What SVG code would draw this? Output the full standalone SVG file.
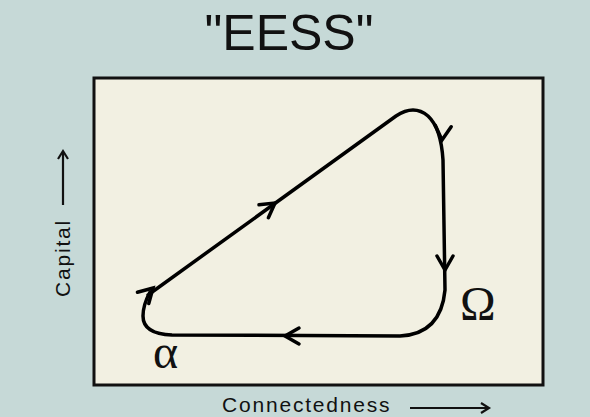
<svg xmlns="http://www.w3.org/2000/svg" width="590" height="417" viewBox="0 0 590 417">
<style>
.bg{fill:#c6d9d7}
.box{fill:#f2f0e2;stroke:#111;stroke-width:3}
.loop{fill:none;stroke:#000;stroke-width:3.5;stroke-linecap:round;stroke-linejoin:round}
.chev{fill:none;stroke:#000;stroke-width:3.5;stroke-linecap:round;stroke-linejoin:miter}
.axis{fill:none;stroke:#111;stroke-width:2.2}
.lbl{font-family:"Liberation Sans",Arial,sans-serif;font-size:21px;fill:#111;letter-spacing:1.8px}
.greek{font-family:"Liberation Serif","Times New Roman",serif;font-size:48px;fill:#111}
</style>
<defs>
<polyline id="chev" class="chev" points="-14,-8 0,0 -14,8"/>
<polyline id="small" class="axis" points="-8,-5 0,0 -8,5"/>
</defs>
<rect class="bg" x="0" y="0" width="590" height="417"/>
<text x="289" y="50" text-anchor="middle" font-family="Liberation Sans, Arial, sans-serif" font-size="50" fill="#111">"EESS"</text>
<g id="frame">
<rect class="box" x="94" y="78" width="449" height="307"/>
</g>
<g id="connectors">
<path class="loop" d="M148,295 L396,116 Q414,104 428,116 Q441,128 443,160 L445,290 Q441,334 400,336 L172,335 Q143,334 143,316 Q143,305 150,292"/>
<use href="#chev" transform="translate(153,288) rotate(-45)"/>
<use href="#chev" transform="translate(275,203) rotate(-36)"/>
<use href="#chev" transform="translate(442,140) rotate(95)"/>
<use href="#chev" transform="translate(445,270) rotate(90)"/>
<use href="#chev" transform="translate(285,336) rotate(180)"/>
<line class="axis" x1="63" y1="205" x2="63" y2="152"/>
<use href="#small" transform="translate(63,151) rotate(-90)"/>
<line class="axis" x1="410" y1="408" x2="488" y2="408"/>
<use href="#small" transform="translate(489,408)"/>
</g>
<g id="labels">
<text class="lbl" transform="translate(70,258) rotate(-90)" text-anchor="middle">Capital</text>
<text class="lbl" x="222" y="412">Connectedness</text>
<text class="greek" x="153" y="368">α</text>
<text class="greek" x="460" y="320">Ω</text>
</g>
</svg>
